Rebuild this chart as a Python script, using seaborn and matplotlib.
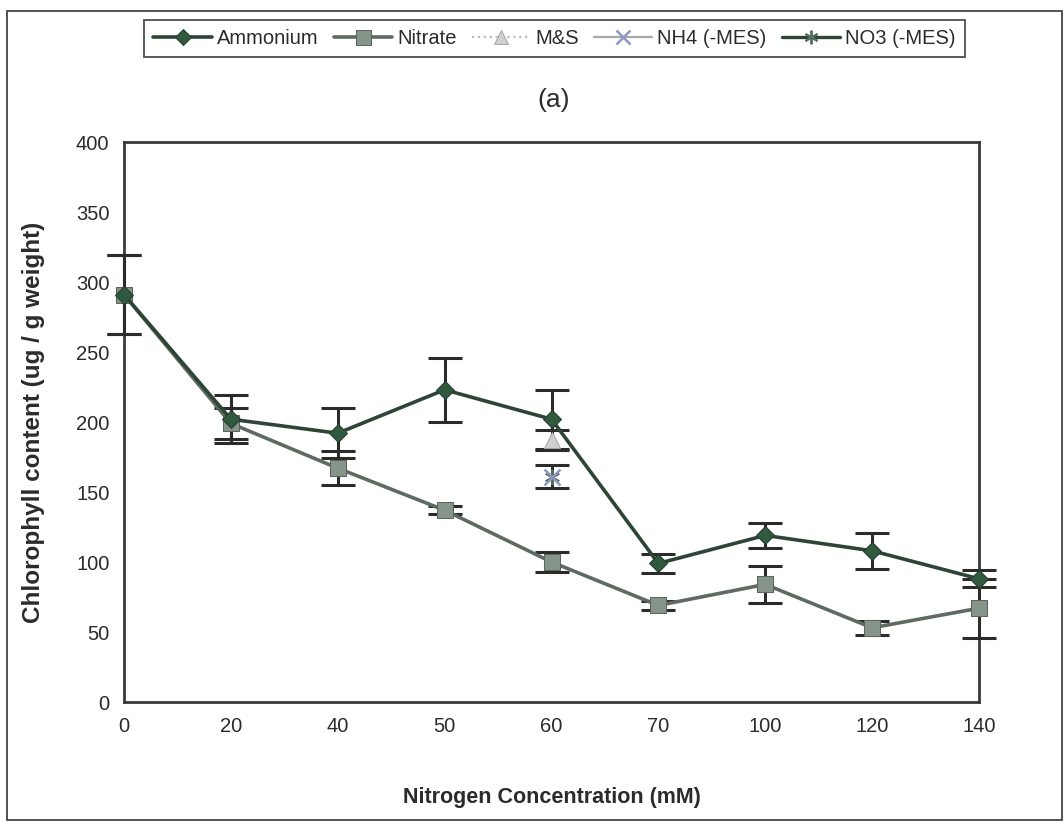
import numpy as np
import matplotlib
matplotlib.use("Agg")
import matplotlib.pyplot as plt
import seaborn as sns
from matplotlib.patches import Rectangle

# ---- data ----
concentrations = ["0", "20", "40", "50", "60", "70", "100", "120", "140"]
ammonium = [291, 202, 192, 223, 202, 99, 119, 108, 88]
ammonium_err = [28, 17, 18, 23, 21, 7, 9, 13, 6]
nitrate = [291, 199, 167, 137, 100, 69, 84, 53, 67]
nitrate_err = [28, 11, 12, 3, 7, 3, 13, 5, 21]
ms_conc = ["60"]
ms_vals = [187]
ms_err = [7]
nh4_mes_conc = ["60"]
nh4_mes_vals = [161]
nh4_mes_err = [8]
no3_mes_conc = ["60"]
no3_mes_vals = [161]
no3_mes_err = [7]

sns.set_theme(style="white")
plt.rcParams['font.family'] = ['Liberation Sans', 'DejaVu Sans']

fig = plt.figure(figsize=(10.64, 8.25), dpi=100)
W, H = 1064, 825
left, right, top, bottom = 124, 979, 142, 702
ax = fig.add_axes([left / W, 1 - bottom / H, (right - left) / W, (bottom - top) / H])

pos = {c: i for i, c in enumerate(concentrations)}
xa = [pos[c] for c in concentrations]

err_kw = dict(fmt='none', ecolor='#2b2b2b', elinewidth=2.2, capsize=12, capthick=2.2, clip_on=False, zorder=3)

# error bars
ax.errorbar(xa, nitrate, yerr=nitrate_err, **err_kw)
ax.errorbar(xa, ammonium, yerr=ammonium_err, **err_kw)
ax.errorbar([pos[c] for c in ms_conc], ms_vals, yerr=ms_err, **err_kw)
ax.errorbar([pos[c] for c in nh4_mes_conc], nh4_mes_vals, yerr=nh4_mes_err, **err_kw)

# lines
sns.lineplot(x=xa, y=ammonium, ax=ax, color='#2e4535', linewidth=2.6, marker='D', markersize=9,
             markerfacecolor='#2f5a3e', markeredgecolor='#2a3a30', label='Ammonium', clip_on=False, zorder=5)
sns.lineplot(x=xa, y=nitrate, ax=ax, color='#5f6b62', linewidth=2.6, marker='s', markersize=12,
             markerfacecolor='#87948a', markeredgecolor='#5a665c', label='Nitrate', clip_on=False, zorder=4)
sns.lineplot(x=[pos[c] for c in ms_conc], y=ms_vals, ax=ax, color='#bdbdbd', linewidth=1.6, linestyle=':',
             marker='^', markersize=11, markerfacecolor='#d0d0d0', markeredgecolor='#a8a8a8',
             label='M&S', clip_on=False, zorder=4)
sns.lineplot(x=[pos[c] for c in nh4_mes_conc], y=nh4_mes_vals, ax=ax, color='#a8a8a8', linewidth=1.6,
             marker='x', markersize=11, markeredgewidth=1.8, markeredgecolor='#8f98c0',
             label='NH4 (-MES)', clip_on=False, zorder=6)
sns.lineplot(x=[pos[c] for c in no3_mes_conc], y=no3_mes_vals, ax=ax, color='#2e4535', linewidth=2.4,
             marker=(6, 2, 0), markersize=11, markeredgewidth=1.4, markeredgecolor='#55705e',
             label='NO3 (-MES)', clip_on=False, zorder=5)

ax.set_xlim(0, len(concentrations) - 1)
ax.set_ylim(0, 400)
ax.set_xticks(xa)
ax.set_xticklabels(concentrations)
ax.set_yticks(np.arange(0, 401, 50))
ax.tick_params(axis='both', which='major', labelsize=14.5, colors='#2b2b2b', direction='inout',
               length=9, width=1.4, pad=6)
ax.tick_params(axis='x', length=6, pad=8)
for sp in ax.spines.values():
    sp.set_color('#3a3a3a')
    sp.set_linewidth(2)
    sp.set_visible(True)

ax.set_xlabel('Nitrogen Concentration (mM)', fontsize=15.5, fontweight='bold', color='#2b2b2b')
ax.set_ylabel('Chlorophyll content (ug / g weight)', fontsize=17.5, fontweight='bold', color='#2b2b2b')
ax.xaxis.set_label_coords(0.5, -(787 - bottom) / (bottom - top))
ax.yaxis.set_label_coords(-(124 - 45) / (right - left), 0.5)

fig.text(554 / W, 1 - 100 / H, '(a)', ha='center', va='center', fontsize=19, color='#2b2b2b')

ax.get_legend().remove()
handles, labels = ax.get_legend_handles_labels()
leg = fig.legend(handles, labels, loc='upper center', bbox_to_anchor=(554.5 / W, 1 - 20 / H), ncol=5,
                 frameon=True, fancybox=False, fontsize=14.5, handlelength=2.9, handletextpad=0.25,
                 columnspacing=0.75, borderpad=0.45, borderaxespad=0, markerscale=0.9)
leg.get_frame().set_edgecolor('#222222')
leg.get_frame().set_linewidth(1.3)
for t in leg.get_texts():
    t.set_color('#2b2b2b')

fig.patches.append(Rectangle((7 / W, 1 - 820 / H), (1062 - 7) / W, (820 - 11) / H, fill=False,
                             edgecolor='#444444', linewidth=1.3, transform=fig.transFigure))

fig.savefig('out.png', dpi=100)
